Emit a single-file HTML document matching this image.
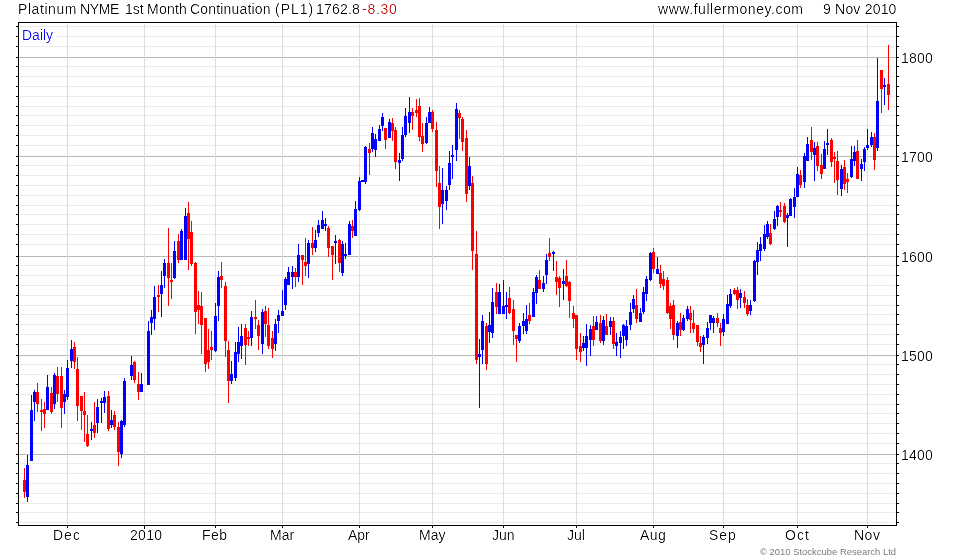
<!DOCTYPE html>
<html><head><meta charset="utf-8"><title>Platinum NYME 1st Month Continuation</title>
<style>
html,body{margin:0;padding:0;background:#fff;}
body{width:980px;height:560px;position:relative;overflow:hidden;font-family:"Liberation Sans",sans-serif;font-size:14px;color:#000;line-height:16px;}
.t{position:absolute;white-space:nowrap;will-change:transform;filter:url(#thr);}
.xl{will-change:transform;position:absolute;top:528px;width:61px;text-align:center;white-space:nowrap;}
.yl{filter:url(#thr);will-change:transform;position:absolute;left:901px;letter-spacing:0.22px;white-space:nowrap;}
</style></head><body>
<svg width="980" height="560" viewBox="0 0 980 560" shape-rendering="crispEdges" style="position:absolute;left:0;top:0">
<defs><filter id="thr" x="0" y="0" width="100%" height="100%" color-interpolation-filters="sRGB"><feComponentTransfer><feFuncA type="linear" slope="1.3" intercept="-0.3"/></feComponentTransfer></filter></defs>
<rect x="0" y="0" width="980" height="560" fill="#fff"/>
<rect x="20" y="522" width="875" height="1" fill="#ececec"/>
<rect x="20" y="512" width="875" height="1" fill="#ececec"/>
<rect x="20" y="503" width="875" height="1" fill="#ececec"/>
<rect x="20" y="493" width="875" height="1" fill="#ececec"/>
<rect x="20" y="483" width="875" height="1" fill="#ececec"/>
<rect x="20" y="473" width="875" height="1" fill="#ececec"/>
<rect x="20" y="463" width="875" height="1" fill="#ececec"/>
<rect x="20" y="443" width="875" height="1" fill="#ececec"/>
<rect x="20" y="433" width="875" height="1" fill="#ececec"/>
<rect x="20" y="423" width="875" height="1" fill="#ececec"/>
<rect x="20" y="413" width="875" height="1" fill="#ececec"/>
<rect x="20" y="404" width="875" height="1" fill="#ececec"/>
<rect x="20" y="394" width="875" height="1" fill="#ececec"/>
<rect x="20" y="384" width="875" height="1" fill="#ececec"/>
<rect x="20" y="374" width="875" height="1" fill="#ececec"/>
<rect x="20" y="364" width="875" height="1" fill="#ececec"/>
<rect x="20" y="344" width="875" height="1" fill="#ececec"/>
<rect x="20" y="334" width="875" height="1" fill="#ececec"/>
<rect x="20" y="324" width="875" height="1" fill="#ececec"/>
<rect x="20" y="314" width="875" height="1" fill="#ececec"/>
<rect x="20" y="305" width="875" height="1" fill="#ececec"/>
<rect x="20" y="295" width="875" height="1" fill="#ececec"/>
<rect x="20" y="285" width="875" height="1" fill="#ececec"/>
<rect x="20" y="275" width="875" height="1" fill="#ececec"/>
<rect x="20" y="265" width="875" height="1" fill="#ececec"/>
<rect x="20" y="244" width="875" height="1" fill="#ececec"/>
<rect x="20" y="234" width="875" height="1" fill="#ececec"/>
<rect x="20" y="224" width="875" height="1" fill="#ececec"/>
<rect x="20" y="214" width="875" height="1" fill="#ececec"/>
<rect x="20" y="205" width="875" height="1" fill="#ececec"/>
<rect x="20" y="195" width="875" height="1" fill="#ececec"/>
<rect x="20" y="185" width="875" height="1" fill="#ececec"/>
<rect x="20" y="175" width="875" height="1" fill="#ececec"/>
<rect x="20" y="165" width="875" height="1" fill="#ececec"/>
<rect x="20" y="145" width="875" height="1" fill="#ececec"/>
<rect x="20" y="135" width="875" height="1" fill="#ececec"/>
<rect x="20" y="125" width="875" height="1" fill="#ececec"/>
<rect x="20" y="115" width="875" height="1" fill="#ececec"/>
<rect x="20" y="106" width="875" height="1" fill="#ececec"/>
<rect x="20" y="96" width="875" height="1" fill="#ececec"/>
<rect x="20" y="86" width="875" height="1" fill="#ececec"/>
<rect x="20" y="76" width="875" height="1" fill="#ececec"/>
<rect x="20" y="66" width="875" height="1" fill="#ececec"/>
<rect x="20" y="46" width="875" height="1" fill="#ececec"/>
<rect x="20" y="36" width="875" height="1" fill="#ececec"/>
<rect x="20" y="26" width="875" height="1" fill="#ececec"/>
<rect x="19" y="57" width="877" height="1" fill="#b8b8b8"/>
<rect x="19" y="156" width="877" height="1" fill="#b8b8b8"/>
<rect x="19" y="256" width="877" height="1" fill="#b8b8b8"/>
<rect x="19" y="355" width="877" height="1" fill="#b8b8b8"/>
<rect x="19" y="454" width="877" height="1" fill="#b8b8b8"/>
<rect x="67" y="24" width="1" height="500" fill="#dcdcdc"/>
<rect x="144" y="24" width="1" height="500" fill="#dcdcdc"/>
<rect x="215" y="24" width="1" height="500" fill="#dcdcdc"/>
<rect x="282" y="24" width="1" height="500" fill="#dcdcdc"/>
<rect x="359" y="24" width="1" height="500" fill="#dcdcdc"/>
<rect x="432" y="24" width="1" height="500" fill="#dcdcdc"/>
<rect x="503" y="24" width="1" height="500" fill="#dcdcdc"/>
<rect x="576" y="24" width="1" height="500" fill="#dcdcdc"/>
<rect x="653" y="24" width="1" height="500" fill="#dcdcdc"/>
<rect x="723" y="24" width="1" height="500" fill="#dcdcdc"/>
<rect x="797" y="24" width="1" height="500" fill="#dcdcdc"/>
<rect x="867" y="24" width="1" height="500" fill="#dcdcdc"/>
<rect x="20" y="27" width="36" height="19" fill="#fff"/>
<rect x="16" y="522" width="2" height="1" fill="#000"/>
<rect x="897" y="522" width="2" height="1" fill="#000"/>
<rect x="16" y="512" width="2" height="1" fill="#000"/>
<rect x="897" y="512" width="2" height="1" fill="#000"/>
<rect x="16" y="503" width="2" height="1" fill="#000"/>
<rect x="897" y="503" width="2" height="1" fill="#000"/>
<rect x="16" y="493" width="2" height="1" fill="#000"/>
<rect x="897" y="493" width="2" height="1" fill="#000"/>
<rect x="16" y="483" width="2" height="1" fill="#000"/>
<rect x="897" y="483" width="2" height="1" fill="#000"/>
<rect x="16" y="473" width="2" height="1" fill="#000"/>
<rect x="897" y="473" width="2" height="1" fill="#000"/>
<rect x="16" y="463" width="2" height="1" fill="#000"/>
<rect x="897" y="463" width="2" height="1" fill="#000"/>
<rect x="16" y="454" width="2" height="1" fill="#000"/>
<rect x="897" y="454" width="2" height="1" fill="#000"/>
<rect x="16" y="443" width="2" height="1" fill="#000"/>
<rect x="897" y="443" width="2" height="1" fill="#000"/>
<rect x="16" y="433" width="2" height="1" fill="#000"/>
<rect x="897" y="433" width="2" height="1" fill="#000"/>
<rect x="16" y="423" width="2" height="1" fill="#000"/>
<rect x="897" y="423" width="2" height="1" fill="#000"/>
<rect x="16" y="413" width="2" height="1" fill="#000"/>
<rect x="897" y="413" width="2" height="1" fill="#000"/>
<rect x="16" y="404" width="2" height="1" fill="#000"/>
<rect x="897" y="404" width="2" height="1" fill="#000"/>
<rect x="16" y="394" width="2" height="1" fill="#000"/>
<rect x="897" y="394" width="2" height="1" fill="#000"/>
<rect x="16" y="384" width="2" height="1" fill="#000"/>
<rect x="897" y="384" width="2" height="1" fill="#000"/>
<rect x="16" y="374" width="2" height="1" fill="#000"/>
<rect x="897" y="374" width="2" height="1" fill="#000"/>
<rect x="16" y="364" width="2" height="1" fill="#000"/>
<rect x="897" y="364" width="2" height="1" fill="#000"/>
<rect x="16" y="355" width="2" height="1" fill="#000"/>
<rect x="897" y="355" width="2" height="1" fill="#000"/>
<rect x="16" y="344" width="2" height="1" fill="#000"/>
<rect x="897" y="344" width="2" height="1" fill="#000"/>
<rect x="16" y="334" width="2" height="1" fill="#000"/>
<rect x="897" y="334" width="2" height="1" fill="#000"/>
<rect x="16" y="324" width="2" height="1" fill="#000"/>
<rect x="897" y="324" width="2" height="1" fill="#000"/>
<rect x="16" y="314" width="2" height="1" fill="#000"/>
<rect x="897" y="314" width="2" height="1" fill="#000"/>
<rect x="16" y="305" width="2" height="1" fill="#000"/>
<rect x="897" y="305" width="2" height="1" fill="#000"/>
<rect x="16" y="295" width="2" height="1" fill="#000"/>
<rect x="897" y="295" width="2" height="1" fill="#000"/>
<rect x="16" y="285" width="2" height="1" fill="#000"/>
<rect x="897" y="285" width="2" height="1" fill="#000"/>
<rect x="16" y="275" width="2" height="1" fill="#000"/>
<rect x="897" y="275" width="2" height="1" fill="#000"/>
<rect x="16" y="265" width="2" height="1" fill="#000"/>
<rect x="897" y="265" width="2" height="1" fill="#000"/>
<rect x="16" y="256" width="2" height="1" fill="#000"/>
<rect x="897" y="256" width="2" height="1" fill="#000"/>
<rect x="16" y="244" width="2" height="1" fill="#000"/>
<rect x="897" y="244" width="2" height="1" fill="#000"/>
<rect x="16" y="234" width="2" height="1" fill="#000"/>
<rect x="897" y="234" width="2" height="1" fill="#000"/>
<rect x="16" y="224" width="2" height="1" fill="#000"/>
<rect x="897" y="224" width="2" height="1" fill="#000"/>
<rect x="16" y="214" width="2" height="1" fill="#000"/>
<rect x="897" y="214" width="2" height="1" fill="#000"/>
<rect x="16" y="205" width="2" height="1" fill="#000"/>
<rect x="897" y="205" width="2" height="1" fill="#000"/>
<rect x="16" y="195" width="2" height="1" fill="#000"/>
<rect x="897" y="195" width="2" height="1" fill="#000"/>
<rect x="16" y="185" width="2" height="1" fill="#000"/>
<rect x="897" y="185" width="2" height="1" fill="#000"/>
<rect x="16" y="175" width="2" height="1" fill="#000"/>
<rect x="897" y="175" width="2" height="1" fill="#000"/>
<rect x="16" y="165" width="2" height="1" fill="#000"/>
<rect x="897" y="165" width="2" height="1" fill="#000"/>
<rect x="16" y="156" width="2" height="1" fill="#000"/>
<rect x="897" y="156" width="2" height="1" fill="#000"/>
<rect x="16" y="145" width="2" height="1" fill="#000"/>
<rect x="897" y="145" width="2" height="1" fill="#000"/>
<rect x="16" y="135" width="2" height="1" fill="#000"/>
<rect x="897" y="135" width="2" height="1" fill="#000"/>
<rect x="16" y="125" width="2" height="1" fill="#000"/>
<rect x="897" y="125" width="2" height="1" fill="#000"/>
<rect x="16" y="115" width="2" height="1" fill="#000"/>
<rect x="897" y="115" width="2" height="1" fill="#000"/>
<rect x="16" y="106" width="2" height="1" fill="#000"/>
<rect x="897" y="106" width="2" height="1" fill="#000"/>
<rect x="16" y="96" width="2" height="1" fill="#000"/>
<rect x="897" y="96" width="2" height="1" fill="#000"/>
<rect x="16" y="86" width="2" height="1" fill="#000"/>
<rect x="897" y="86" width="2" height="1" fill="#000"/>
<rect x="16" y="76" width="2" height="1" fill="#000"/>
<rect x="897" y="76" width="2" height="1" fill="#000"/>
<rect x="16" y="66" width="2" height="1" fill="#000"/>
<rect x="897" y="66" width="2" height="1" fill="#000"/>
<rect x="16" y="57" width="2" height="1" fill="#000"/>
<rect x="897" y="57" width="2" height="1" fill="#000"/>
<rect x="16" y="46" width="2" height="1" fill="#000"/>
<rect x="897" y="46" width="2" height="1" fill="#000"/>
<rect x="16" y="36" width="2" height="1" fill="#000"/>
<rect x="897" y="36" width="2" height="1" fill="#000"/>
<rect x="16" y="26" width="2" height="1" fill="#000"/>
<rect x="897" y="26" width="2" height="1" fill="#000"/>
<rect x="67" y="526" width="1" height="2" fill="#000"/>
<rect x="144" y="526" width="1" height="3" fill="#000"/>
<rect x="215" y="526" width="1" height="2" fill="#000"/>
<rect x="282" y="526" width="1" height="2" fill="#000"/>
<rect x="359" y="526" width="1" height="2" fill="#000"/>
<rect x="432" y="526" width="1" height="2" fill="#000"/>
<rect x="503" y="526" width="1" height="2" fill="#000"/>
<rect x="576" y="526" width="1" height="2" fill="#000"/>
<rect x="653" y="526" width="1" height="2" fill="#000"/>
<rect x="723" y="526" width="1" height="2" fill="#000"/>
<rect x="797" y="526" width="1" height="2" fill="#000"/>
<rect x="867" y="526" width="1" height="2" fill="#000"/>
<rect x="18" y="22" width="879" height="1" fill="#000"/>
<rect x="18" y="525" width="879" height="1" fill="#000"/>
<rect x="18" y="22" width="1" height="504" fill="#000"/>
<rect x="896" y="22" width="1" height="504" fill="#000"/>
<rect x="24" y="468" width="1" height="30" fill="#ff0000"/>
<rect x="23" y="480" width="3" height="12" fill="#ff0000"/>
<rect x="27" y="455" width="1" height="47" fill="#0000ff"/>
<rect x="26" y="465" width="3" height="32" fill="#0000ff"/>
<rect x="31" y="395" width="1" height="66" fill="#0000ff"/>
<rect x="30" y="410" width="3" height="51" fill="#0000ff"/>
<rect x="34" y="390" width="1" height="31" fill="#0000ff"/>
<rect x="33" y="392" width="3" height="10" fill="#0000ff"/>
<rect x="37" y="383" width="1" height="29" fill="#ff0000"/>
<rect x="36" y="392" width="3" height="12" fill="#ff0000"/>
<rect x="41" y="399" width="1" height="32" fill="#ff0000"/>
<rect x="40" y="410" width="3" height="2" fill="#ff0000"/>
<rect x="44" y="402" width="1" height="26" fill="#ff0000"/>
<rect x="43" y="409" width="3" height="5" fill="#ff0000"/>
<rect x="47" y="375" width="1" height="35" fill="#0000ff"/>
<rect x="46" y="387" width="3" height="23" fill="#0000ff"/>
<rect x="51" y="387" width="1" height="27" fill="#ff0000"/>
<rect x="50" y="393" width="3" height="19" fill="#ff0000"/>
<rect x="54" y="373" width="1" height="36" fill="#0000ff"/>
<rect x="53" y="375" width="3" height="29" fill="#0000ff"/>
<rect x="57" y="367" width="1" height="35" fill="#ff0000"/>
<rect x="56" y="376" width="3" height="18" fill="#ff0000"/>
<rect x="61" y="367" width="1" height="61" fill="#ff0000"/>
<rect x="60" y="376" width="3" height="32" fill="#ff0000"/>
<rect x="64" y="390" width="1" height="24" fill="#0000ff"/>
<rect x="63" y="394" width="3" height="8" fill="#0000ff"/>
<rect x="67" y="360" width="1" height="40" fill="#0000ff"/>
<rect x="66" y="368" width="3" height="29" fill="#0000ff"/>
<rect x="71" y="340" width="1" height="28" fill="#0000ff"/>
<rect x="70" y="349" width="3" height="12" fill="#0000ff"/>
<rect x="74" y="342" width="1" height="27" fill="#ff0000"/>
<rect x="73" y="347" width="3" height="15" fill="#ff0000"/>
<rect x="77" y="357" width="1" height="64" fill="#ff0000"/>
<rect x="76" y="369" width="3" height="37" fill="#ff0000"/>
<rect x="81" y="396" width="1" height="34" fill="#ff0000"/>
<rect x="80" y="396" width="3" height="15" fill="#ff0000"/>
<rect x="84" y="392" width="1" height="50" fill="#ff0000"/>
<rect x="83" y="411" width="3" height="4" fill="#ff0000"/>
<rect x="87" y="415" width="1" height="32" fill="#ff0000"/>
<rect x="86" y="434" width="3" height="12" fill="#ff0000"/>
<rect x="91" y="422" width="1" height="18" fill="#0000ff"/>
<rect x="90" y="429" width="3" height="2" fill="#0000ff"/>
<rect x="94" y="402" width="1" height="36" fill="#ff0000"/>
<rect x="93" y="425" width="3" height="8" fill="#ff0000"/>
<rect x="97" y="399" width="1" height="34" fill="#0000ff"/>
<rect x="96" y="407" width="3" height="16" fill="#0000ff"/>
<rect x="101" y="398" width="1" height="25" fill="#0000ff"/>
<rect x="100" y="401" width="3" height="2" fill="#0000ff"/>
<rect x="104" y="391" width="1" height="22" fill="#0000ff"/>
<rect x="103" y="397" width="3" height="6" fill="#0000ff"/>
<rect x="108" y="391" width="1" height="40" fill="#ff0000"/>
<rect x="107" y="396" width="3" height="33" fill="#ff0000"/>
<rect x="111" y="410" width="1" height="18" fill="#0000ff"/>
<rect x="110" y="420" width="3" height="5" fill="#0000ff"/>
<rect x="114" y="411" width="1" height="19" fill="#ff0000"/>
<rect x="113" y="415" width="3" height="12" fill="#ff0000"/>
<rect x="118" y="422" width="1" height="44" fill="#ff0000"/>
<rect x="117" y="427" width="3" height="25" fill="#ff0000"/>
<rect x="121" y="420" width="1" height="38" fill="#0000ff"/>
<rect x="120" y="421" width="3" height="33" fill="#0000ff"/>
<rect x="124" y="378" width="1" height="49" fill="#0000ff"/>
<rect x="123" y="381" width="3" height="44" fill="#0000ff"/>
<rect x="131" y="356" width="1" height="24" fill="#0000ff"/>
<rect x="130" y="365" width="3" height="11" fill="#0000ff"/>
<rect x="134" y="361" width="1" height="22" fill="#ff0000"/>
<rect x="133" y="362" width="3" height="18" fill="#ff0000"/>
<rect x="138" y="372" width="1" height="28" fill="#ff0000"/>
<rect x="137" y="384" width="3" height="8" fill="#ff0000"/>
<rect x="141" y="373" width="1" height="19" fill="#0000ff"/>
<rect x="140" y="384" width="3" height="8" fill="#0000ff"/>
<rect x="148" y="321" width="1" height="64" fill="#0000ff"/>
<rect x="147" y="331" width="3" height="54" fill="#0000ff"/>
<rect x="151" y="310" width="1" height="25" fill="#0000ff"/>
<rect x="150" y="317" width="3" height="6" fill="#0000ff"/>
<rect x="154" y="286" width="1" height="44" fill="#0000ff"/>
<rect x="153" y="297" width="3" height="22" fill="#0000ff"/>
<rect x="158" y="285" width="1" height="27" fill="#ff0000"/>
<rect x="157" y="295" width="3" height="2" fill="#ff0000"/>
<rect x="161" y="271" width="1" height="46" fill="#0000ff"/>
<rect x="160" y="285" width="3" height="9" fill="#0000ff"/>
<rect x="164" y="259" width="1" height="29" fill="#0000ff"/>
<rect x="163" y="263" width="3" height="13" fill="#0000ff"/>
<rect x="168" y="228" width="1" height="78" fill="#ff0000"/>
<rect x="167" y="263" width="3" height="15" fill="#ff0000"/>
<rect x="171" y="263" width="1" height="36" fill="#ff0000"/>
<rect x="170" y="280" width="3" height="2" fill="#ff0000"/>
<rect x="174" y="241" width="1" height="38" fill="#0000ff"/>
<rect x="173" y="251" width="3" height="27" fill="#0000ff"/>
<rect x="178" y="234" width="1" height="29" fill="#ff0000"/>
<rect x="177" y="241" width="3" height="19" fill="#ff0000"/>
<rect x="181" y="229" width="1" height="31" fill="#0000ff"/>
<rect x="180" y="231" width="3" height="29" fill="#0000ff"/>
<rect x="185" y="208" width="1" height="52" fill="#0000ff"/>
<rect x="184" y="216" width="3" height="44" fill="#0000ff"/>
<rect x="188" y="202" width="1" height="68" fill="#ff0000"/>
<rect x="187" y="213" width="3" height="26" fill="#ff0000"/>
<rect x="191" y="221" width="1" height="45" fill="#ff0000"/>
<rect x="190" y="232" width="3" height="32" fill="#ff0000"/>
<rect x="195" y="262" width="1" height="72" fill="#ff0000"/>
<rect x="194" y="263" width="3" height="49" fill="#ff0000"/>
<rect x="198" y="291" width="1" height="33" fill="#ff0000"/>
<rect x="197" y="305" width="3" height="5" fill="#ff0000"/>
<rect x="201" y="292" width="1" height="62" fill="#ff0000"/>
<rect x="200" y="306" width="3" height="19" fill="#ff0000"/>
<rect x="205" y="318" width="1" height="54" fill="#ff0000"/>
<rect x="204" y="318" width="3" height="46" fill="#ff0000"/>
<rect x="208" y="329" width="1" height="40" fill="#ff0000"/>
<rect x="207" y="350" width="3" height="12" fill="#ff0000"/>
<rect x="211" y="331" width="1" height="29" fill="#ff0000"/>
<rect x="210" y="347" width="3" height="3" fill="#ff0000"/>
<rect x="215" y="303" width="1" height="49" fill="#0000ff"/>
<rect x="214" y="316" width="3" height="35" fill="#0000ff"/>
<rect x="218" y="271" width="1" height="50" fill="#0000ff"/>
<rect x="217" y="277" width="3" height="29" fill="#0000ff"/>
<rect x="221" y="262" width="1" height="26" fill="#ff0000"/>
<rect x="220" y="276" width="3" height="4" fill="#ff0000"/>
<rect x="225" y="282" width="1" height="75" fill="#ff0000"/>
<rect x="224" y="286" width="3" height="55" fill="#ff0000"/>
<rect x="228" y="341" width="1" height="62" fill="#ff0000"/>
<rect x="227" y="350" width="3" height="31" fill="#ff0000"/>
<rect x="231" y="361" width="1" height="23" fill="#0000ff"/>
<rect x="230" y="374" width="3" height="7" fill="#0000ff"/>
<rect x="235" y="342" width="1" height="39" fill="#0000ff"/>
<rect x="234" y="352" width="3" height="26" fill="#0000ff"/>
<rect x="238" y="327" width="1" height="35" fill="#0000ff"/>
<rect x="237" y="342" width="3" height="12" fill="#0000ff"/>
<rect x="241" y="324" width="1" height="35" fill="#0000ff"/>
<rect x="240" y="336" width="3" height="10" fill="#0000ff"/>
<rect x="245" y="324" width="1" height="41" fill="#ff0000"/>
<rect x="244" y="328" width="3" height="17" fill="#ff0000"/>
<rect x="248" y="331" width="1" height="15" fill="#ff0000"/>
<rect x="247" y="337" width="3" height="2" fill="#ff0000"/>
<rect x="251" y="311" width="1" height="35" fill="#0000ff"/>
<rect x="250" y="317" width="3" height="21" fill="#0000ff"/>
<rect x="255" y="300" width="1" height="29" fill="#ff0000"/>
<rect x="254" y="317" width="3" height="2" fill="#ff0000"/>
<rect x="258" y="320" width="1" height="30" fill="#ff0000"/>
<rect x="257" y="325" width="3" height="11" fill="#ff0000"/>
<rect x="262" y="309" width="1" height="45" fill="#0000ff"/>
<rect x="261" y="312" width="3" height="32" fill="#0000ff"/>
<rect x="265" y="306" width="1" height="31" fill="#ff0000"/>
<rect x="264" y="311" width="3" height="13" fill="#ff0000"/>
<rect x="268" y="308" width="1" height="41" fill="#ff0000"/>
<rect x="267" y="325" width="3" height="21" fill="#ff0000"/>
<rect x="272" y="331" width="1" height="27" fill="#ff0000"/>
<rect x="271" y="338" width="3" height="11" fill="#ff0000"/>
<rect x="275" y="319" width="1" height="32" fill="#0000ff"/>
<rect x="274" y="324" width="3" height="20" fill="#0000ff"/>
<rect x="278" y="310" width="1" height="23" fill="#0000ff"/>
<rect x="277" y="315" width="3" height="6" fill="#0000ff"/>
<rect x="282" y="290" width="1" height="26" fill="#0000ff"/>
<rect x="281" y="311" width="3" height="5" fill="#0000ff"/>
<rect x="285" y="277" width="1" height="33" fill="#0000ff"/>
<rect x="284" y="279" width="3" height="26" fill="#0000ff"/>
<rect x="288" y="267" width="1" height="18" fill="#0000ff"/>
<rect x="287" y="272" width="3" height="13" fill="#0000ff"/>
<rect x="292" y="266" width="1" height="23" fill="#0000ff"/>
<rect x="291" y="272" width="3" height="5" fill="#0000ff"/>
<rect x="295" y="268" width="1" height="19" fill="#ff0000"/>
<rect x="294" y="272" width="3" height="5" fill="#ff0000"/>
<rect x="298" y="244" width="1" height="38" fill="#0000ff"/>
<rect x="297" y="255" width="3" height="22" fill="#0000ff"/>
<rect x="302" y="255" width="1" height="30" fill="#ff0000"/>
<rect x="301" y="255" width="3" height="5" fill="#ff0000"/>
<rect x="305" y="238" width="1" height="38" fill="#ff0000"/>
<rect x="304" y="262" width="3" height="4" fill="#ff0000"/>
<rect x="308" y="240" width="1" height="38" fill="#0000ff"/>
<rect x="307" y="243" width="3" height="21" fill="#0000ff"/>
<rect x="312" y="227" width="1" height="28" fill="#ff0000"/>
<rect x="311" y="243" width="3" height="5" fill="#ff0000"/>
<rect x="315" y="230" width="1" height="22" fill="#0000ff"/>
<rect x="314" y="240" width="3" height="8" fill="#0000ff"/>
<rect x="318" y="220" width="1" height="17" fill="#0000ff"/>
<rect x="317" y="225" width="3" height="8" fill="#0000ff"/>
<rect x="322" y="211" width="1" height="18" fill="#0000ff"/>
<rect x="321" y="220" width="3" height="9" fill="#0000ff"/>
<rect x="325" y="218" width="1" height="13" fill="#0000ff"/>
<rect x="324" y="224" width="3" height="2" fill="#0000ff"/>
<rect x="328" y="226" width="1" height="31" fill="#ff0000"/>
<rect x="327" y="228" width="3" height="20" fill="#ff0000"/>
<rect x="332" y="246" width="1" height="34" fill="#ff0000"/>
<rect x="331" y="246" width="3" height="9" fill="#ff0000"/>
<rect x="335" y="235" width="1" height="29" fill="#0000ff"/>
<rect x="334" y="241" width="3" height="2" fill="#0000ff"/>
<rect x="339" y="239" width="1" height="33" fill="#ff0000"/>
<rect x="338" y="240" width="3" height="23" fill="#ff0000"/>
<rect x="342" y="241" width="1" height="35" fill="#0000ff"/>
<rect x="341" y="244" width="3" height="29" fill="#0000ff"/>
<rect x="345" y="243" width="1" height="16" fill="#0000ff"/>
<rect x="344" y="254" width="3" height="2" fill="#0000ff"/>
<rect x="349" y="221" width="1" height="34" fill="#0000ff"/>
<rect x="348" y="224" width="3" height="31" fill="#0000ff"/>
<rect x="352" y="220" width="1" height="18" fill="#ff0000"/>
<rect x="351" y="226" width="3" height="5" fill="#ff0000"/>
<rect x="355" y="201" width="1" height="35" fill="#0000ff"/>
<rect x="354" y="209" width="3" height="27" fill="#0000ff"/>
<rect x="359" y="177" width="1" height="34" fill="#0000ff"/>
<rect x="358" y="181" width="3" height="29" fill="#0000ff"/>
<rect x="362" y="180" width="1" height="2" fill="#0000ff"/>
<rect x="361" y="180" width="3" height="2" fill="#0000ff"/>
<rect x="365" y="146" width="1" height="38" fill="#0000ff"/>
<rect x="364" y="147" width="3" height="35" fill="#0000ff"/>
<rect x="369" y="143" width="1" height="32" fill="#ff0000"/>
<rect x="368" y="149" width="3" height="4" fill="#ff0000"/>
<rect x="372" y="127" width="1" height="25" fill="#0000ff"/>
<rect x="371" y="133" width="3" height="16" fill="#0000ff"/>
<rect x="375" y="134" width="1" height="23" fill="#0000ff"/>
<rect x="374" y="139" width="3" height="11" fill="#0000ff"/>
<rect x="379" y="125" width="1" height="16" fill="#0000ff"/>
<rect x="378" y="129" width="3" height="12" fill="#0000ff"/>
<rect x="382" y="113" width="1" height="18" fill="#0000ff"/>
<rect x="381" y="117" width="3" height="9" fill="#0000ff"/>
<rect x="385" y="128" width="1" height="21" fill="#ff0000"/>
<rect x="384" y="128" width="3" height="12" fill="#ff0000"/>
<rect x="389" y="119" width="1" height="19" fill="#0000ff"/>
<rect x="388" y="122" width="3" height="16" fill="#0000ff"/>
<rect x="392" y="118" width="1" height="23" fill="#ff0000"/>
<rect x="391" y="123" width="3" height="8" fill="#ff0000"/>
<rect x="395" y="127" width="1" height="42" fill="#ff0000"/>
<rect x="394" y="130" width="3" height="32" fill="#ff0000"/>
<rect x="399" y="153" width="1" height="28" fill="#0000ff"/>
<rect x="398" y="160" width="3" height="3" fill="#0000ff"/>
<rect x="402" y="127" width="1" height="34" fill="#0000ff"/>
<rect x="401" y="135" width="3" height="24" fill="#0000ff"/>
<rect x="405" y="108" width="1" height="29" fill="#0000ff"/>
<rect x="404" y="116" width="3" height="19" fill="#0000ff"/>
<rect x="409" y="97" width="1" height="36" fill="#0000ff"/>
<rect x="408" y="112" width="3" height="11" fill="#0000ff"/>
<rect x="412" y="108" width="1" height="22" fill="#ff0000"/>
<rect x="411" y="112" width="3" height="4" fill="#ff0000"/>
<rect x="416" y="99" width="1" height="18" fill="#ff0000"/>
<rect x="415" y="110" width="3" height="3" fill="#ff0000"/>
<rect x="419" y="98" width="1" height="43" fill="#ff0000"/>
<rect x="418" y="106" width="3" height="31" fill="#ff0000"/>
<rect x="422" y="123" width="1" height="29" fill="#ff0000"/>
<rect x="421" y="136" width="3" height="8" fill="#ff0000"/>
<rect x="426" y="117" width="1" height="27" fill="#0000ff"/>
<rect x="425" y="123" width="3" height="20" fill="#0000ff"/>
<rect x="429" y="107" width="1" height="16" fill="#0000ff"/>
<rect x="428" y="112" width="3" height="11" fill="#0000ff"/>
<rect x="432" y="110" width="1" height="22" fill="#ff0000"/>
<rect x="431" y="112" width="3" height="17" fill="#ff0000"/>
<rect x="436" y="122" width="1" height="65" fill="#ff0000"/>
<rect x="435" y="130" width="3" height="41" fill="#ff0000"/>
<rect x="439" y="166" width="1" height="63" fill="#ff0000"/>
<rect x="438" y="183" width="3" height="24" fill="#ff0000"/>
<rect x="442" y="168" width="1" height="56" fill="#0000ff"/>
<rect x="441" y="190" width="3" height="14" fill="#0000ff"/>
<rect x="446" y="186" width="1" height="24" fill="#0000ff"/>
<rect x="445" y="190" width="3" height="11" fill="#0000ff"/>
<rect x="449" y="151" width="1" height="39" fill="#0000ff"/>
<rect x="448" y="163" width="3" height="22" fill="#0000ff"/>
<rect x="452" y="145" width="1" height="34" fill="#0000ff"/>
<rect x="451" y="155" width="3" height="2" fill="#0000ff"/>
<rect x="456" y="103" width="1" height="58" fill="#0000ff"/>
<rect x="455" y="109" width="3" height="41" fill="#0000ff"/>
<rect x="459" y="110" width="1" height="29" fill="#ff0000"/>
<rect x="458" y="113" width="3" height="5" fill="#ff0000"/>
<rect x="462" y="117" width="1" height="34" fill="#ff0000"/>
<rect x="461" y="119" width="3" height="23" fill="#ff0000"/>
<rect x="466" y="130" width="1" height="72" fill="#ff0000"/>
<rect x="465" y="138" width="3" height="56" fill="#ff0000"/>
<rect x="469" y="157" width="1" height="33" fill="#0000ff"/>
<rect x="468" y="166" width="3" height="20" fill="#0000ff"/>
<rect x="472" y="176" width="1" height="94" fill="#ff0000"/>
<rect x="471" y="183" width="3" height="68" fill="#ff0000"/>
<rect x="476" y="231" width="1" height="133" fill="#ff0000"/>
<rect x="475" y="254" width="3" height="106" fill="#ff0000"/>
<rect x="479" y="339" width="1" height="69" fill="#0000ff"/>
<rect x="478" y="354" width="3" height="3" fill="#0000ff"/>
<rect x="482" y="315" width="1" height="49" fill="#0000ff"/>
<rect x="481" y="321" width="3" height="29" fill="#0000ff"/>
<rect x="486" y="323" width="1" height="47" fill="#ff0000"/>
<rect x="485" y="326" width="3" height="38" fill="#ff0000"/>
<rect x="489" y="312" width="1" height="31" fill="#0000ff"/>
<rect x="488" y="325" width="3" height="7" fill="#0000ff"/>
<rect x="492" y="288" width="1" height="50" fill="#0000ff"/>
<rect x="491" y="302" width="3" height="31" fill="#0000ff"/>
<rect x="496" y="283" width="1" height="31" fill="#ff0000"/>
<rect x="495" y="292" width="3" height="15" fill="#ff0000"/>
<rect x="499" y="284" width="1" height="30" fill="#0000ff"/>
<rect x="498" y="292" width="3" height="22" fill="#0000ff"/>
<rect x="503" y="280" width="1" height="34" fill="#0000ff"/>
<rect x="502" y="306" width="3" height="8" fill="#0000ff"/>
<rect x="506" y="292" width="1" height="27" fill="#0000ff"/>
<rect x="505" y="305" width="3" height="2" fill="#0000ff"/>
<rect x="509" y="287" width="1" height="27" fill="#ff0000"/>
<rect x="508" y="298" width="3" height="15" fill="#ff0000"/>
<rect x="513" y="300" width="1" height="45" fill="#ff0000"/>
<rect x="512" y="309" width="3" height="22" fill="#ff0000"/>
<rect x="516" y="335" width="1" height="27" fill="#ff0000"/>
<rect x="515" y="335" width="3" height="4" fill="#ff0000"/>
<rect x="519" y="323" width="1" height="20" fill="#0000ff"/>
<rect x="518" y="326" width="3" height="15" fill="#0000ff"/>
<rect x="523" y="313" width="1" height="21" fill="#0000ff"/>
<rect x="522" y="321" width="3" height="5" fill="#0000ff"/>
<rect x="526" y="305" width="1" height="29" fill="#0000ff"/>
<rect x="525" y="319" width="3" height="12" fill="#0000ff"/>
<rect x="529" y="303" width="1" height="21" fill="#ff0000"/>
<rect x="528" y="315" width="3" height="6" fill="#ff0000"/>
<rect x="533" y="288" width="1" height="29" fill="#0000ff"/>
<rect x="532" y="292" width="3" height="25" fill="#0000ff"/>
<rect x="536" y="275" width="1" height="29" fill="#0000ff"/>
<rect x="535" y="277" width="3" height="16" fill="#0000ff"/>
<rect x="539" y="270" width="1" height="19" fill="#ff0000"/>
<rect x="538" y="280" width="3" height="9" fill="#ff0000"/>
<rect x="543" y="276" width="1" height="16" fill="#0000ff"/>
<rect x="542" y="283" width="3" height="6" fill="#0000ff"/>
<rect x="546" y="254" width="1" height="30" fill="#0000ff"/>
<rect x="545" y="260" width="3" height="15" fill="#0000ff"/>
<rect x="549" y="238" width="1" height="23" fill="#ff0000"/>
<rect x="548" y="253" width="3" height="4" fill="#ff0000"/>
<rect x="553" y="251" width="1" height="20" fill="#0000ff"/>
<rect x="552" y="252" width="3" height="2" fill="#0000ff"/>
<rect x="556" y="261" width="1" height="34" fill="#ff0000"/>
<rect x="555" y="277" width="3" height="5" fill="#ff0000"/>
<rect x="559" y="276" width="1" height="31" fill="#ff0000"/>
<rect x="558" y="278" width="3" height="10" fill="#ff0000"/>
<rect x="563" y="269" width="1" height="31" fill="#0000ff"/>
<rect x="562" y="281" width="3" height="3" fill="#0000ff"/>
<rect x="566" y="260" width="1" height="27" fill="#ff0000"/>
<rect x="565" y="276" width="3" height="10" fill="#ff0000"/>
<rect x="569" y="281" width="1" height="37" fill="#ff0000"/>
<rect x="568" y="282" width="3" height="19" fill="#ff0000"/>
<rect x="573" y="306" width="1" height="22" fill="#ff0000"/>
<rect x="572" y="313" width="3" height="6" fill="#ff0000"/>
<rect x="576" y="315" width="1" height="45" fill="#ff0000"/>
<rect x="575" y="315" width="3" height="34" fill="#ff0000"/>
<rect x="580" y="333" width="1" height="29" fill="#ff0000"/>
<rect x="579" y="346" width="3" height="6" fill="#ff0000"/>
<rect x="583" y="336" width="1" height="15" fill="#0000ff"/>
<rect x="582" y="343" width="3" height="5" fill="#0000ff"/>
<rect x="586" y="324" width="1" height="42" fill="#0000ff"/>
<rect x="585" y="336" width="3" height="12" fill="#0000ff"/>
<rect x="590" y="325" width="1" height="31" fill="#0000ff"/>
<rect x="589" y="329" width="3" height="11" fill="#0000ff"/>
<rect x="593" y="316" width="1" height="30" fill="#ff0000"/>
<rect x="592" y="326" width="3" height="14" fill="#ff0000"/>
<rect x="596" y="316" width="1" height="14" fill="#0000ff"/>
<rect x="595" y="322" width="3" height="8" fill="#0000ff"/>
<rect x="600" y="315" width="1" height="28" fill="#ff0000"/>
<rect x="599" y="323" width="3" height="18" fill="#ff0000"/>
<rect x="603" y="316" width="1" height="29" fill="#0000ff"/>
<rect x="602" y="320" width="3" height="21" fill="#0000ff"/>
<rect x="606" y="314" width="1" height="21" fill="#ff0000"/>
<rect x="605" y="326" width="3" height="9" fill="#ff0000"/>
<rect x="610" y="317" width="1" height="18" fill="#0000ff"/>
<rect x="609" y="321" width="3" height="6" fill="#0000ff"/>
<rect x="613" y="317" width="1" height="32" fill="#ff0000"/>
<rect x="612" y="321" width="3" height="23" fill="#ff0000"/>
<rect x="616" y="333" width="1" height="23" fill="#0000ff"/>
<rect x="615" y="342" width="3" height="4" fill="#0000ff"/>
<rect x="620" y="331" width="1" height="27" fill="#0000ff"/>
<rect x="619" y="337" width="3" height="6" fill="#0000ff"/>
<rect x="623" y="324" width="1" height="25" fill="#0000ff"/>
<rect x="622" y="325" width="3" height="11" fill="#0000ff"/>
<rect x="626" y="320" width="1" height="26" fill="#0000ff"/>
<rect x="625" y="326" width="3" height="14" fill="#0000ff"/>
<rect x="630" y="303" width="1" height="27" fill="#0000ff"/>
<rect x="629" y="312" width="3" height="13" fill="#0000ff"/>
<rect x="633" y="295" width="1" height="18" fill="#0000ff"/>
<rect x="632" y="299" width="3" height="10" fill="#0000ff"/>
<rect x="636" y="289" width="1" height="34" fill="#ff0000"/>
<rect x="635" y="305" width="3" height="14" fill="#ff0000"/>
<rect x="640" y="308" width="1" height="14" fill="#0000ff"/>
<rect x="639" y="313" width="3" height="9" fill="#0000ff"/>
<rect x="643" y="287" width="1" height="27" fill="#0000ff"/>
<rect x="642" y="292" width="3" height="20" fill="#0000ff"/>
<rect x="646" y="276" width="1" height="25" fill="#0000ff"/>
<rect x="645" y="279" width="3" height="15" fill="#0000ff"/>
<rect x="650" y="252" width="1" height="29" fill="#0000ff"/>
<rect x="649" y="253" width="3" height="27" fill="#0000ff"/>
<rect x="653" y="248" width="1" height="25" fill="#ff0000"/>
<rect x="652" y="252" width="3" height="17" fill="#ff0000"/>
<rect x="657" y="257" width="1" height="17" fill="#0000ff"/>
<rect x="656" y="269" width="3" height="5" fill="#0000ff"/>
<rect x="660" y="265" width="1" height="23" fill="#ff0000"/>
<rect x="659" y="273" width="3" height="11" fill="#ff0000"/>
<rect x="663" y="271" width="1" height="19" fill="#ff0000"/>
<rect x="662" y="279" width="3" height="7" fill="#ff0000"/>
<rect x="667" y="277" width="1" height="37" fill="#ff0000"/>
<rect x="666" y="280" width="3" height="33" fill="#ff0000"/>
<rect x="670" y="303" width="1" height="26" fill="#ff0000"/>
<rect x="669" y="306" width="3" height="13" fill="#ff0000"/>
<rect x="673" y="300" width="1" height="40" fill="#ff0000"/>
<rect x="672" y="305" width="3" height="30" fill="#ff0000"/>
<rect x="677" y="321" width="1" height="27" fill="#0000ff"/>
<rect x="676" y="323" width="3" height="13" fill="#0000ff"/>
<rect x="680" y="313" width="1" height="23" fill="#ff0000"/>
<rect x="679" y="322" width="3" height="8" fill="#ff0000"/>
<rect x="683" y="315" width="1" height="16" fill="#0000ff"/>
<rect x="682" y="318" width="3" height="12" fill="#0000ff"/>
<rect x="687" y="306" width="1" height="15" fill="#0000ff"/>
<rect x="686" y="309" width="3" height="10" fill="#0000ff"/>
<rect x="690" y="306" width="1" height="27" fill="#ff0000"/>
<rect x="689" y="313" width="3" height="7" fill="#ff0000"/>
<rect x="693" y="310" width="1" height="23" fill="#ff0000"/>
<rect x="692" y="323" width="3" height="6" fill="#ff0000"/>
<rect x="697" y="325" width="1" height="21" fill="#ff0000"/>
<rect x="696" y="325" width="3" height="17" fill="#ff0000"/>
<rect x="700" y="336" width="1" height="16" fill="#ff0000"/>
<rect x="699" y="343" width="3" height="4" fill="#ff0000"/>
<rect x="703" y="335" width="1" height="29" fill="#0000ff"/>
<rect x="702" y="337" width="3" height="8" fill="#0000ff"/>
<rect x="707" y="322" width="1" height="22" fill="#0000ff"/>
<rect x="706" y="328" width="3" height="10" fill="#0000ff"/>
<rect x="710" y="315" width="1" height="15" fill="#0000ff"/>
<rect x="709" y="315" width="3" height="8" fill="#0000ff"/>
<rect x="713" y="316" width="1" height="17" fill="#0000ff"/>
<rect x="712" y="318" width="3" height="5" fill="#0000ff"/>
<rect x="717" y="313" width="1" height="14" fill="#ff0000"/>
<rect x="716" y="318" width="3" height="5" fill="#ff0000"/>
<rect x="720" y="323" width="1" height="23" fill="#ff0000"/>
<rect x="719" y="328" width="3" height="5" fill="#ff0000"/>
<rect x="723" y="314" width="1" height="22" fill="#0000ff"/>
<rect x="722" y="319" width="3" height="13" fill="#0000ff"/>
<rect x="727" y="295" width="1" height="29" fill="#0000ff"/>
<rect x="726" y="304" width="3" height="20" fill="#0000ff"/>
<rect x="730" y="289" width="1" height="19" fill="#0000ff"/>
<rect x="729" y="294" width="3" height="12" fill="#0000ff"/>
<rect x="734" y="288" width="1" height="7" fill="#ff0000"/>
<rect x="733" y="290" width="3" height="4" fill="#ff0000"/>
<rect x="737" y="287" width="1" height="22" fill="#ff0000"/>
<rect x="736" y="290" width="3" height="10" fill="#ff0000"/>
<rect x="740" y="289" width="1" height="19" fill="#0000ff"/>
<rect x="739" y="293" width="3" height="5" fill="#0000ff"/>
<rect x="744" y="291" width="1" height="17" fill="#ff0000"/>
<rect x="743" y="297" width="3" height="6" fill="#ff0000"/>
<rect x="747" y="299" width="1" height="17" fill="#ff0000"/>
<rect x="746" y="305" width="3" height="9" fill="#ff0000"/>
<rect x="750" y="300" width="1" height="15" fill="#0000ff"/>
<rect x="749" y="305" width="3" height="6" fill="#0000ff"/>
<rect x="754" y="260" width="1" height="42" fill="#0000ff"/>
<rect x="753" y="261" width="3" height="40" fill="#0000ff"/>
<rect x="757" y="242" width="1" height="33" fill="#0000ff"/>
<rect x="756" y="250" width="3" height="12" fill="#0000ff"/>
<rect x="760" y="237" width="1" height="24" fill="#0000ff"/>
<rect x="759" y="244" width="3" height="7" fill="#0000ff"/>
<rect x="764" y="225" width="1" height="26" fill="#0000ff"/>
<rect x="763" y="234" width="3" height="15" fill="#0000ff"/>
<rect x="767" y="221" width="1" height="18" fill="#0000ff"/>
<rect x="766" y="224" width="3" height="13" fill="#0000ff"/>
<rect x="770" y="224" width="1" height="21" fill="#ff0000"/>
<rect x="769" y="233" width="3" height="11" fill="#ff0000"/>
<rect x="774" y="211" width="1" height="19" fill="#0000ff"/>
<rect x="773" y="219" width="3" height="10" fill="#0000ff"/>
<rect x="777" y="205" width="1" height="21" fill="#0000ff"/>
<rect x="776" y="206" width="3" height="11" fill="#0000ff"/>
<rect x="780" y="202" width="1" height="15" fill="#ff0000"/>
<rect x="779" y="210" width="3" height="2" fill="#ff0000"/>
<rect x="784" y="203" width="1" height="20" fill="#ff0000"/>
<rect x="783" y="206" width="3" height="16" fill="#ff0000"/>
<rect x="787" y="213" width="1" height="34" fill="#0000ff"/>
<rect x="786" y="215" width="3" height="3" fill="#0000ff"/>
<rect x="790" y="198" width="1" height="18" fill="#0000ff"/>
<rect x="789" y="199" width="3" height="17" fill="#0000ff"/>
<rect x="794" y="188" width="1" height="30" fill="#0000ff"/>
<rect x="793" y="197" width="3" height="10" fill="#0000ff"/>
<rect x="797" y="167" width="1" height="30" fill="#0000ff"/>
<rect x="796" y="174" width="3" height="23" fill="#0000ff"/>
<rect x="800" y="170" width="1" height="18" fill="#ff0000"/>
<rect x="799" y="175" width="3" height="10" fill="#ff0000"/>
<rect x="804" y="153" width="1" height="35" fill="#0000ff"/>
<rect x="803" y="156" width="3" height="26" fill="#0000ff"/>
<rect x="807" y="137" width="1" height="24" fill="#0000ff"/>
<rect x="806" y="144" width="3" height="17" fill="#0000ff"/>
<rect x="811" y="127" width="1" height="33" fill="#ff0000"/>
<rect x="810" y="140" width="3" height="12" fill="#ff0000"/>
<rect x="814" y="142" width="1" height="39" fill="#0000ff"/>
<rect x="813" y="148" width="3" height="7" fill="#0000ff"/>
<rect x="817" y="142" width="1" height="29" fill="#ff0000"/>
<rect x="816" y="146" width="3" height="20" fill="#ff0000"/>
<rect x="821" y="154" width="1" height="25" fill="#ff0000"/>
<rect x="820" y="165" width="3" height="9" fill="#ff0000"/>
<rect x="824" y="141" width="1" height="28" fill="#0000ff"/>
<rect x="823" y="149" width="3" height="20" fill="#0000ff"/>
<rect x="827" y="129" width="1" height="26" fill="#0000ff"/>
<rect x="826" y="143" width="3" height="2" fill="#0000ff"/>
<rect x="831" y="138" width="1" height="29" fill="#ff0000"/>
<rect x="830" y="140" width="3" height="22" fill="#ff0000"/>
<rect x="834" y="152" width="1" height="31" fill="#ff0000"/>
<rect x="833" y="157" width="3" height="2" fill="#ff0000"/>
<rect x="837" y="151" width="1" height="44" fill="#ff0000"/>
<rect x="836" y="161" width="3" height="19" fill="#ff0000"/>
<rect x="841" y="165" width="1" height="31" fill="#0000ff"/>
<rect x="840" y="169" width="3" height="20" fill="#0000ff"/>
<rect x="844" y="160" width="1" height="30" fill="#ff0000"/>
<rect x="843" y="167" width="3" height="17" fill="#ff0000"/>
<rect x="847" y="173" width="1" height="20" fill="#ff0000"/>
<rect x="846" y="179" width="3" height="3" fill="#ff0000"/>
<rect x="851" y="146" width="1" height="32" fill="#0000ff"/>
<rect x="850" y="159" width="3" height="18" fill="#0000ff"/>
<rect x="854" y="146" width="1" height="20" fill="#0000ff"/>
<rect x="853" y="152" width="3" height="9" fill="#0000ff"/>
<rect x="857" y="140" width="1" height="39" fill="#ff0000"/>
<rect x="856" y="151" width="3" height="28" fill="#ff0000"/>
<rect x="861" y="159" width="1" height="22" fill="#0000ff"/>
<rect x="860" y="164" width="3" height="5" fill="#0000ff"/>
<rect x="864" y="147" width="1" height="24" fill="#0000ff"/>
<rect x="863" y="149" width="3" height="13" fill="#0000ff"/>
<rect x="867" y="129" width="1" height="21" fill="#0000ff"/>
<rect x="866" y="145" width="3" height="3" fill="#0000ff"/>
<rect x="871" y="132" width="1" height="15" fill="#0000ff"/>
<rect x="870" y="137" width="3" height="8" fill="#0000ff"/>
<rect x="874" y="133" width="1" height="37" fill="#ff0000"/>
<rect x="873" y="137" width="3" height="23" fill="#ff0000"/>
<rect x="877" y="58" width="1" height="93" fill="#0000ff"/>
<rect x="876" y="101" width="3" height="47" fill="#0000ff"/>
<rect x="881" y="70" width="1" height="43" fill="#ff0000"/>
<rect x="880" y="70" width="3" height="19" fill="#ff0000"/>
<rect x="884" y="78" width="1" height="27" fill="#0000ff"/>
<rect x="883" y="85" width="3" height="2" fill="#0000ff"/>
<rect x="888" y="45" width="1" height="65" fill="#ff0000"/>
<rect x="887" y="84" width="3" height="11" fill="#ff0000"/>
</svg>
<div class="t" id="tw0" style="left:18px;top:1px;letter-spacing:0.57px;color:#000">Platinum</div><div class="t" id="tw1" style="left:80px;top:1px;letter-spacing:-0.33px;color:#000">NYME</div><div class="t" id="tw2" style="left:125px;top:1px;letter-spacing:0.0px;color:#000">1st</div><div class="t" id="tw3" style="left:147px;top:1px;letter-spacing:0.25px;color:#000">Month</div><div class="t" id="tw4" style="left:190px;top:1px;letter-spacing:0.18px;color:#000">Continuation</div><div class="t" id="tw5" style="left:275px;top:1px;letter-spacing:1.0px;color:#000">(PL1)</div><div class="t" id="tw6" style="left:316px;top:1px;letter-spacing:0.2px;color:#000">1762.8</div><div class="t" id="tw7" style="left:362px;top:1px;letter-spacing:0.75px;color:#c00000">-8.30</div>
<div class="t" id="site" style="left:658px;top:1px;letter-spacing:0.55px">www.fullermoney.com</div>
<div class="t" id="date" style="left:823px;top:1px;letter-spacing:0.2px">9 Nov 2010</div>
<div class="t" id="daily" style="left:22px;top:27px;color:#00f">Daily</div>
<div class="t xl2" id="xl_Dec" style="left:53px;top:527px;letter-spacing:1.0px">Dec</div><div class="t xl2" id="xl_2010" style="left:130px;top:527px;letter-spacing:0.33px">2010</div><div class="t xl2" id="xl_Feb" style="left:202px;top:527px;letter-spacing:0.5px">Feb</div><div class="t xl2" id="xl_Mar" style="left:270px;top:527px;letter-spacing:0.0px">Mar</div><div class="t xl2" id="xl_Apr" style="left:348px;top:527px;letter-spacing:0.0px">Apr</div><div class="t xl2" id="xl_May" style="left:419px;top:527px;letter-spacing:0.0px">May</div><div class="t xl2" id="xl_Jun" style="left:492px;top:527px;letter-spacing:0.0px">Jun</div><div class="t xl2" id="xl_Jul" style="left:567px;top:527px;letter-spacing:0.0px">Jul</div><div class="t xl2" id="xl_Aug" style="left:640px;top:527px;letter-spacing:0.5px">Aug</div><div class="t xl2" id="xl_Sep" style="left:709px;top:527px;letter-spacing:1.0px">Sep</div><div class="t xl2" id="xl_Oct" style="left:785px;top:527px;letter-spacing:1.0px">Oct</div><div class="t xl2" id="xl_Nov" style="left:854px;top:527px;letter-spacing:0.5px">Nov</div><div class="yl" style="top:50px">1800</div><div class="yl" style="top:149px">1700</div><div class="yl" style="top:249px">1600</div><div class="yl" style="top:348px">1500</div><div class="yl" style="top:447px">1400</div>
<div class="t" id="copy" style="filter:none;left:759.5px;top:546px;font-size:9.45px;color:#7a7a7a;letter-spacing:0px;line-height:12px">© 2010 Stockcube Research Ltd</div>
</body></html>
